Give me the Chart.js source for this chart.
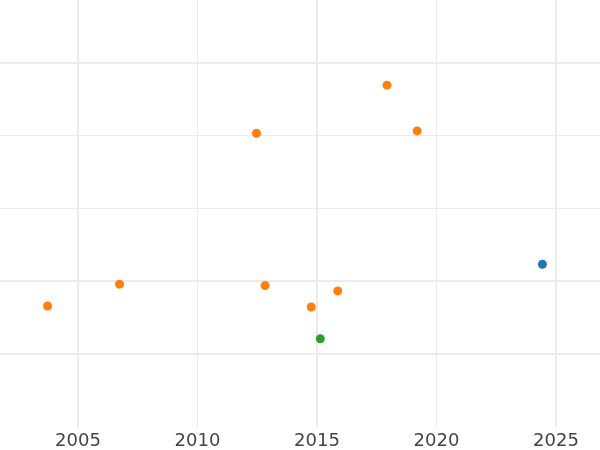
<!DOCTYPE html>
<html><head><meta charset="utf-8">
<script src="https://cdn.jsdelivr.net/npm/chart.js@4/dist/chart.umd.min.js"></script>
<style>html,body{margin:0;padding:0;background:#fff}#wrap{width:600px;height:450px}</style>
</head><body><div id="wrap"><canvas id="c"></canvas></div>
<script>
const orangeX = [2003.73, 2006.74, 2012.47, 2012.83, 2014.76, 2015.87, 2017.93, 2019.19];
const orangeY = [1.663, 1.962, 4.036, 1.943, 1.649, 1.870, 4.696, 4.068];
const blueX = [2024.43];
const blueY = [2.236];
const greenX = [2015.14];
const greenY = [1.213];
const xTicks = [2005, 2010, 2015, 2020, 2025];
const yTicks = [1, 2, 3, 4, 5];
const majorX = [2005, 2015, 2025];
const majorY = [1, 2, 5];

const pts = (xs, ys) => xs.map((x, i) => ({x: x, y: ys[i]}));
const ds = (xs, ys, color) => ({data: pts(xs, ys), backgroundColor: color, borderColor: color, pointRadius: 4.5, pointHoverRadius: 4.5, borderWidth: 0});

new Chart(document.getElementById('c'), {
  type: 'scatter',
  data: {datasets: [
    ds(orangeX, orangeY, '#ff7f0e'),
    ds(blueX, blueY, '#1f77b4'),
    ds(greenX, greenY, '#2ca02c')
  ]},
  options: {
    responsive: true, maintainAspectRatio: false, animation: false,
    layout: {padding: {top: 0, left: 0, right: 0, bottom: -5}, autoPadding: false},
    plugins: {legend: {display: false}, tooltip: {enabled: false}},
    scales: {
      x: {
        type: 'linear', min: 2001.74, max: 2026.84,
        afterBuildTicks: s => { s.ticks = xTicks.map(v => ({value: v})); },
        border: {display: false},
        grid: {color: '#ebebeb', drawTicks: false,
               lineWidth: c => (c.tick && majorX.includes(c.tick.value)) ? 2 : 1},
        ticks: {padding: 5, color: '#444', font: {family: 'DejaVu Sans', size: 18, lineHeight: 1},
                callback: v => String(v)}
      },
      y: {
        type: 'linear', min: 0, max: 5.866,
        afterBuildTicks: s => { s.ticks = yTicks.map(v => ({value: v})); },
        border: {display: false},
        grid: {color: '#ebebeb', drawTicks: false,
               lineWidth: c => (c.tick && majorY.includes(c.tick.value)) ? 2 : 1},
        ticks: {display: false}
      }
    }
  }
});
</script></body></html>
